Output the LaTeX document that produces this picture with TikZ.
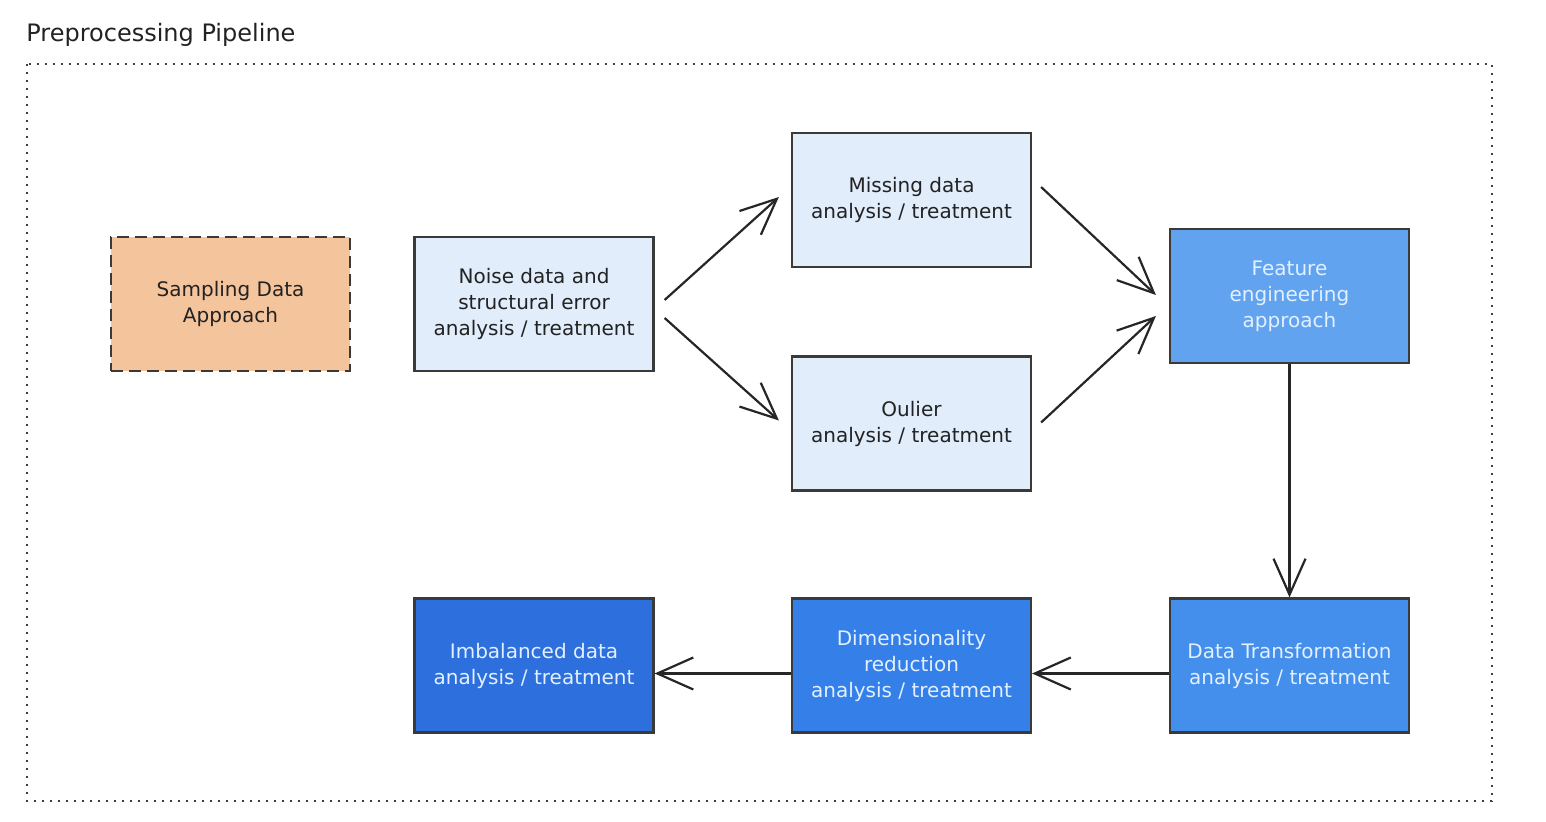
\documentclass[tikz,border=0pt]{standalone}
\usepackage{fontspec}
\setmainfont{DejaVu Sans}
\usetikzlibrary{arrows.meta,calc}
\definecolor{peach}{HTML}{F4C49C}
\definecolor{lightb}{HTML}{E1EDFB}
\definecolor{featb}{HTML}{62A3F0}
\definecolor{dtb}{HTML}{448EEC}
\definecolor{dimb}{HTML}{3580E8}
\definecolor{imbb}{HTML}{2D6FDD}
\definecolor{bord}{HTML}{3A3A3A}
\definecolor{lighttext}{HTML}{E2F0FF}
\definecolor{darktext}{HTML}{222222}
\tikzset{
  box/.style={draw=bord, line width=1.1pt, minimum width=119.5pt, minimum height=67pt,
    align=center, font=\fontsize{10}{13}\selectfont, inner sep=2pt},
  lbox/.style={box, fill=lightb, text=darktext},
  bbox/.style={box, text=lighttext},
  arr/.style={draw=black!85, line width=1.1pt, -{Straight Barb[length=18pt,width=16pt,line width=1.1pt]}},
}
\begin{document}
\begin{tikzpicture}[x=0.5pt,y=-0.5pt]
\useasboundingbox (0,0) rectangle (1546,822);
\node[anchor=base west, font=\fontsize{12}{14}\selectfont, text=darktext, inner sep=0pt] (title) at (26,42) {Preprocessing Pipeline};
\draw[black!75, line width=0.8pt, dash pattern=on 1pt off 3pt] (27,64) rectangle (1492,801);
\node[box, fill=peach, text=darktext, dashed, dash pattern=on 6pt off 3pt] (samp) at (230.5,304) {Sampling Data\\Approach};
\node[lbox] (noise) at (534,304) {Noise data and\\structural error\\analysis / treatment};
\node[lbox] (miss) at (911.5,200) {Missing data\\analysis / treatment};
\node[lbox] (outl) at (911.5,423.5) {Oulier\\analysis / treatment};
\node[bbox, fill=featb] (feat) at (1289.5,296) {Feature\\engineering\\approach};
\node[bbox, fill=dtb] (dt) at (1289.5,665.5) {Data Transformation\\analysis / treatment};
\node[bbox, fill=dimb] (dim) at (911.5,665.5) {Dimensionality\\reduction\\analysis / treatment};
\node[bbox, fill=imbb] (imb) at (534,665.5) {Imbalanced data\\analysis / treatment};
\draw[arr] ($(noise.east)+(10,-4)$) -- ($(miss.west)+(-12,-3)$);
\draw[arr] ($(noise.east)+(10,14)$) -- ($(outl.west)+(-12,-3)$);
\draw[arr] ($(miss.east)+(9,-13)$) -- ($(feat.west)+(-13,-1)$);
\draw[arr] ($(outl.east)+(9,-1)$) -- ($(feat.west)+(-13,20)$);
\draw[arr] (feat.south) -- (dt.north);
\draw[arr] ($(dt.west)+(0,8)$) -- ($(dim.east)+(0,8)$);
\draw[arr] ($(dim.west)+(0,8)$) -- ($(imb.east)+(0,8)$);
\end{tikzpicture}
\end{document}
